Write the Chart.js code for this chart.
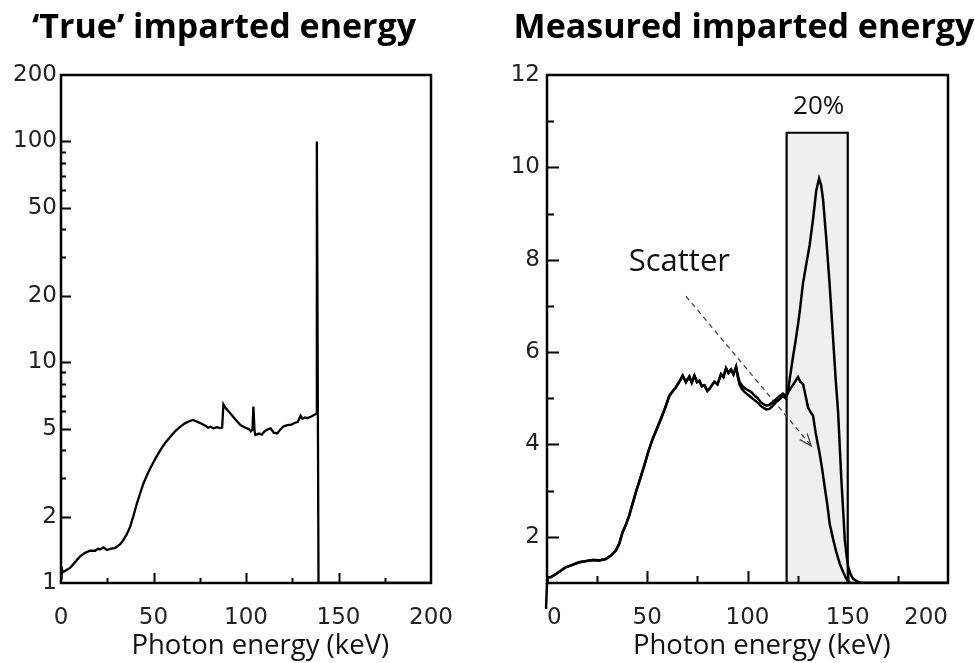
<!DOCTYPE html>
<html>
<head>
<meta charset="utf-8">
<script src="https://cdn.jsdelivr.net/npm/chart.js@4.4.1/dist/chart.umd.min.js"></script>
<style>
  html, body { margin: 0; padding: 0; background: #fff; }
  #wrap { position: relative; width: 975px; height: 663px; overflow: hidden; }
  #leftBox { position: absolute; left: 0; top: 0; width: 487px; height: 663px; }
  #rightBox { position: absolute; left: 487px; top: 0; width: 488px; height: 663px; }
</style>
</head>
<body>
<div id="wrap">
  <div id="leftBox"><canvas id="trueChart" width="487" height="663"></canvas></div>
  <div id="rightBox"><canvas id="measuredChart" width="488" height="663"></canvas></div>
</div>
<script>
// ---- data ----
// left panel: 'true' imparted energy (log y)
const leftEnergy = [0, 0.3, 1, 2.5, 4.9, 7.5, 10.3, 13, 15.7, 18.5, 20, 21.1, 23, 24.8, 27, 29, 30.2, 32, 33.8, 35.5,
  37.4, 39.2, 41, 42.8, 44.6, 46.4, 48.2, 51, 53.7, 56.4, 59.1, 61.8, 64.5, 67.2, 69.9, 71.5, 73, 75.3, 78, 79.5,
  80.8, 82.5, 84.2, 86, 87.1, 87.8, 89, 91.6, 94.3, 97, 99.7, 101.5, 102.6, 103.5, 104, 104.6, 105.1, 107, 108.5, 110,
  111.5, 113.3, 115, 116.9, 118.5, 120, 122.3, 124.5, 126.5, 128, 129.5, 130.5, 131.8, 133.2, 135, 136.8, 137.9, 138.3, 139.2, 200];
const leftImparted = [1.05, 1.17, 1.12, 1.14, 1.17, 1.24, 1.32, 1.37, 1.40, 1.40, 1.43, 1.42, 1.45, 1.41, 1.43, 1.44, 1.46, 1.50, 1.57, 1.66,
  1.80, 2.02, 2.29, 2.55, 2.83, 3.07, 3.30, 3.66, 4.00, 4.32, 4.60, 4.88, 5.11, 5.30, 5.43, 5.48, 5.40, 5.30, 5.16, 5.05,
  5.10, 5.02, 5.08, 5.03, 5.06, 6.45, 6.20, 5.86, 5.50, 5.19, 5.05, 4.98, 4.86, 4.95, 6.30, 4.90, 4.68, 4.75, 4.70, 4.86,
  4.95, 5.02, 4.80, 4.76, 4.95, 5.10, 5.19, 5.22, 5.32, 5.36, 5.72, 5.55, 5.62, 5.58, 5.66, 5.76, 5.85, 100, 1, 1];

// right panel: measured spectrum (total) and scatter part
const measuredEnergy = [0, 0.2, 2, 4.3, 7, 9.3, 12, 16, 19, 22.7, 26, 29.3, 32, 34.3, 36, 37.7, 39.5, 41, 42.7, 44.3,
  46.5, 48.5, 50.5, 52.7, 54.8, 56.8, 59, 61, 62.7, 64.3, 66, 67.7, 69.3, 71, 72.2, 73.5, 74.8, 76, 77.2, 78.5,
  80, 81, 82.2, 83.5, 85, 86.8, 88, 89.3, 90.5, 91.8, 93, 94.3, 95.2, 96, 97.2, 98.5, 100, 101.8, 103.5, 105.2,
  106.5, 107.7, 109.3, 111, 112.7, 114.3, 116, 117.7, 119, 120.2, 121, 122.7, 124, 125.2, 126, 127.7, 129.3, 131, 132.7, 134.3,
  135.7, 136.7, 137.7, 139.3, 141, 142.7, 144, 145.2, 146.8, 147.8, 148.5, 149.4, 150.2, 151.5, 152.7, 154.5, 156, 158, 200];
const measuredTotal = [1.04, 1.12, 1.13, 1.19, 1.27, 1.34, 1.38, 1.45, 1.47, 1.50, 1.49, 1.52, 1.60, 1.70, 1.85, 2.10, 2.28, 2.46, 2.72, 2.96,
  3.26, 3.54, 3.84, 4.12, 4.34, 4.55, 4.80, 5.05, 5.15, 5.24, 5.36, 5.49, 5.35, 5.47, 5.34, 5.49, 5.35, 5.38, 5.26, 5.28,
  5.16, 5.20, 5.28, 5.36, 5.30, 5.52, 5.46, 5.65, 5.55, 5.62, 5.52, 5.68, 5.50, 5.36, 5.28, 5.22, 5.18, 5.14, 5.06, 5.00,
  4.92, 4.88, 4.84, 4.86, 4.92, 4.98, 5.05, 5.10, 5.05, 5.15, 5.40, 5.90, 6.25, 6.60, 6.86, 7.50, 7.90, 8.32, 8.88, 9.50,
  9.76, 9.62, 9.30, 8.45, 7.44, 6.28, 5.40, 4.69, 3.25, 2.50, 1.95, 1.60, 1.35, 1.18, 1.09, 1.04, 1.01, 1.0, 1.0];
// scatter follows the total below ~94 keV, then splits off
const scatterEnergy = [94.3, 95.2, 96, 97.2, 98.5, 100, 101.8, 103.5, 105.2, 106.5, 107.7, 109.3, 111, 112.7, 114.3, 116, 117.7, 119, 120.2, 121.5,
  122.7, 124, 125.2, 126.3, 127.7, 129, 130.2, 131.5, 132.7, 134, 136, 137.3, 138.5, 139.8, 141, 142.7, 144.3, 146, 147.7, 149.3, 150.5, 151.5, 200];
const scatterPart = [5.68, 5.45, 5.30, 5.20, 5.14, 5.08, 5.02, 4.96, 4.90, 4.84, 4.80, 4.76, 4.77, 4.84, 4.92, 4.98, 5.05, 5.00, 5.12, 5.22,
  5.29, 5.38, 5.46, 5.36, 5.31, 5.05, 4.80, 4.70, 4.62, 4.25, 3.80, 3.45, 3.08, 2.70, 2.28, 1.95, 1.67, 1.42, 1.24, 1.09, 1.02, 1.0, 1.0];

// 20% energy window
const windowEnergy = [119.5, 150];
const windowTop = 10.75;

// dashed arrow and text notes (right panel)
const arrowEnergy = [69.3, 131.8];
const arrowValue = [7.21, 3.97];
const noteText = ['Scatter', '20%'];
const noteEnergy = [66, 135.5];
const noteValue = [7.95, 11.32];

// ticks
const xLabelTicks = [0, 50, 100, 150, 200];
const xMajorMarks = [50, 100, 150];
const xMinorMarks = [25, 75, 125, 175];
const leftYLabelTicks = [1, 2, 5, 10, 20, 50, 100, 200];
const leftYMajorMarks = [2, 5, 10, 20, 50, 100];
const leftYMinorMarks = [3, 4, 6, 7, 8, 9, 30, 40, 60, 70, 80, 90];
const rightYLabelTicks = [2, 4, 6, 8, 10, 12];
const rightYMajorMarks = [2, 4, 6, 8, 10];
const rightYMinorMarks = [3, 5, 7, 9, 11];

const zip = (xs, ys) => xs.map((x, i) => ({ x, y: ys[i] }));

const TICK_FONT = { family: 'DejaVu Sans', size: 23 };
const TEXT_FAMILY = 'Open Sans';

// frame, inward tick marks and panel heading
const framePlugin = {
  id: 'frame',
  afterDatasetsDraw(chart, args, o) {
    const { ctx, chartArea: a, scales: { x, y } } = chart;
    ctx.save();
    ctx.strokeStyle = '#000';
    ctx.lineWidth = 2;
    const mark = (scale, values, len) => values.forEach(v => {
      const p = Math.round(scale.getPixelForValue(v)) + 0.5;
      ctx.beginPath();
      if (scale.isHorizontal()) { ctx.moveTo(p, a.bottom); ctx.lineTo(p, a.bottom - len); }
      else { ctx.moveTo(a.left, p); ctx.lineTo(a.left + len, p); }
      ctx.stroke();
    });
    mark(x, o.xMajor, o.majorLen);
    mark(x, o.xMinor, o.minorLen);
    mark(y, o.yMajor, o.majorLen);
    mark(y, o.yMinor, o.minorLen);
    ctx.lineWidth = 2.5;
    ctx.strokeRect(a.left, a.top, a.right - a.left, a.bottom - a.top);
    if (o.stub) {
      ctx.beginPath();
      ctx.moveTo(a.left, a.bottom);
      ctx.lineTo(a.left - 1, a.bottom + o.stub);
      ctx.stroke();
    }
    // heading (drawn here so it is not squeezed to the plot width)
    ctx.fillStyle = '#000';
    ctx.font = 'bold 34px "' + TEXT_FAMILY + '"';
    ctx.textAlign = 'center';
    ctx.textBaseline = 'alphabetic';
    ctx.fillText(o.heading, (a.left + a.right) / 2 + o.headingShift, 38);
    ctx.restore();
  }
};

// text notes + arrow head on the right panel
const notesPlugin = {
  id: 'notes',
  afterDatasetsDraw(chart) {
    const { ctx, scales: { x, y } } = chart;
    ctx.save();
    ctx.fillStyle = '#111';
    ctx.textAlign = 'center';
    ctx.textBaseline = 'middle';
    ctx.font = '31px "' + TEXT_FAMILY + '"';
    ctx.fillText(noteText[0], x.getPixelForValue(noteEnergy[0]), y.getPixelForValue(noteValue[0]));
    ctx.font = '26px "' + TEXT_FAMILY + '"';
    ctx.fillText(noteText[1], x.getPixelForValue(noteEnergy[1]), y.getPixelForValue(noteValue[1]));

    const x0 = x.getPixelForValue(arrowEnergy[0]), y0 = y.getPixelForValue(arrowValue[0]);
    const x1 = x.getPixelForValue(arrowEnergy[1]), y1 = y.getPixelForValue(arrowValue[1]);
    const ang = Math.atan2(y1 - y0, x1 - x0);
    ctx.strokeStyle = '#444';
    ctx.lineWidth = 1.3;
    ctx.beginPath();
    ctx.moveTo(x1 - 13 * Math.cos(ang - 0.38), y1 - 13 * Math.sin(ang - 0.38));
    ctx.lineTo(x1, y1);
    ctx.lineTo(x1 - 13 * Math.cos(ang + 0.38), y1 - 13 * Math.sin(ang + 0.38));
    ctx.stroke();
    ctx.restore();
  }
};

function xScale(align) {
  return {
    type: 'linear', min: 0, max: 200,
    grid: { display: false, drawTicks: false },
    border: { display: false },
    afterBuildTicks: s => { s.ticks = xLabelTicks.map(v => ({ value: v })); },
    afterFit: s => { s.height = 80; },
    ticks: { font: TICK_FONT, color: '#222', padding: 21, maxRotation: 0, autoSkip: false, align: align || 'center', callback: v => v },
    title: { display: true, text: '    Photon energy (keV)', color: '#111',
      font: { family: TEXT_FAMILY, size: 27.5 }, padding: { top: 0, bottom: 0 } }
  };
}

// left chart
new Chart(document.getElementById('trueChart'), {
  type: 'scatter',
  data: {
    datasets: [{
      data: zip(leftEnergy, leftImparted),
      showLine: true, borderColor: '#000', borderWidth: 2.3, pointRadius: 0, tension: 0
    }]
  },
  options: {
    responsive: false, animation: false,
    layout: { padding: { left: 0, right: 56, top: 75, bottom: 0 } },
    plugins: {
      legend: { display: false }, tooltip: { enabled: false },
      frame: { xMajor: xMajorMarks, xMinor: xMinorMarks, yMajor: leftYMajorMarks, yMinor: leftYMinorMarks,
        majorLen: 10, minorLen: 5, heading: '\u2018True\u2019 imparted energy', headingShift: -22 }
    },
    scales: {
      x: xScale(),
      y: {
        type: 'logarithmic', min: 1, max: 200,
        grid: { display: false, drawTicks: false },
        border: { display: false },
        afterBuildTicks: s => { s.ticks = leftYLabelTicks.map(v => ({ value: v })); },
        afterFit: s => { s.width = 61; },
        ticks: { font: TICK_FONT, color: '#222', padding: 4, autoSkip: false, callback: v => v }
      }
    }
  },
  plugins: [framePlugin]
});

// right chart
const totalPts = zip(measuredEnergy, measuredTotal);
const scatterPts = totalPts.filter(p => p.x < scatterEnergy[0]).concat(zip(scatterEnergy, scatterPart));
const windowPts = [
  { x: windowEnergy[0], y: 1 }, { x: windowEnergy[0], y: windowTop },
  { x: windowEnergy[1], y: windowTop }, { x: windowEnergy[1], y: 1 }
];

new Chart(document.getElementById('measuredChart'), {
  type: 'scatter',
  data: {
    datasets: [
      { data: totalPts, showLine: true, borderColor: '#000', borderWidth: 2.5, pointRadius: 0, tension: 0, order: 1 },
      { data: scatterPts, showLine: true, borderColor: '#000', borderWidth: 2.5, pointRadius: 0, tension: 0, order: 2 },
      { data: zip(arrowEnergy, arrowValue), showLine: true, borderColor: '#444', borderWidth: 1.3,
        borderDash: [5, 4], pointRadius: 0, order: 3 },
      { data: windowPts, showLine: true, borderColor: '#000', borderWidth: 2.2, backgroundColor: '#efefef',
        fill: 'origin', pointRadius: 0, tension: 0, order: 10 }
    ]
  },
  options: {
    responsive: false, animation: false,
    layout: { padding: { left: 0, right: 27, top: 75, bottom: 0 } },
    plugins: {
      legend: { display: false }, tooltip: { enabled: false },
      frame: { xMajor: xMajorMarks, xMinor: xMinorMarks, yMajor: rightYMajorMarks, yMinor: rightYMinorMarks,
        majorLen: 12, minorLen: 7, stub: 26, heading: 'Measured imparted energy', headingShift: -3.5 }
    },
    scales: {
      x: xScale('inner'),
      y: {
        type: 'linear', min: 1, max: 12,
        grid: { display: false, drawTicks: false },
        border: { display: false },
        afterBuildTicks: s => { s.ticks = rightYLabelTicks.map(v => ({ value: v })); },
        afterFit: s => { s.width = 60; },
        ticks: { font: TICK_FONT, color: '#222', padding: 7, autoSkip: false, callback: v => v }
      }
    }
  },
  plugins: [framePlugin, notesPlugin]
});
</script>
</body>
</html>
